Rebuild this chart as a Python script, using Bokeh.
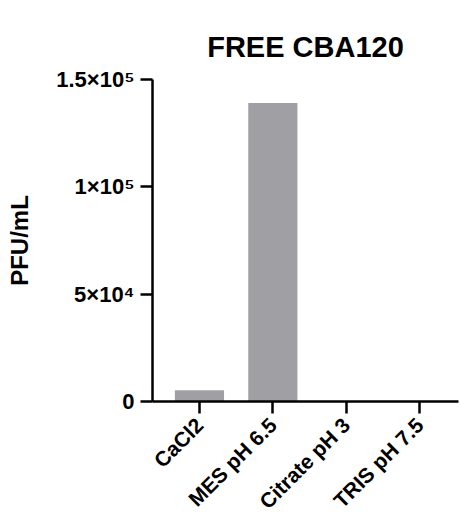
import math
from bokeh.plotting import figure
from bokeh.models import Range1d, FixedTicker, ColumnDataSource
from bokeh.embed import file_html
from bokeh.resources import INLINE

categories = ["CaCl2", "MES pH 6.5", "Citrate pH 3", "TRIS pH 7.5"]
pfu_values = [5200, 139000, 0, 0]
y_ticks = [0, 50000, 100000, 150000]
y_tick_labels = ["0", "5×10⁴", "1×10⁵", "1.5×10⁵"]
title_text = "FREE CBA120"

xs = list(range(len(categories)))
src = ColumnDataSource(dict(x=xs, top=pfu_values))

FONT = "Liberation Sans"

p = figure(width=460, height=525, output_backend="svg", toolbar_location=None,
           x_range=Range1d(-0.64, 3.53), y_range=Range1d(0, 150000),
           title=title_text, min_border_left=152, min_border_right=2,
           min_border_top=79, min_border_bottom=124)

p.vbar(x="x", top="top", width=0.67, source=src, fill_color="#a0a0a4", line_color=None)

p.title.text_font = FONT
p.title.text_font_size = "29px"
p.title.text_font_style = "bold"
p.title.align = "center"
p.title.vertical_align = "top"
p.title.standoff = 30
p.title.text_color = "black"

p.outline_line_color = None
p.xgrid.grid_line_color = None
p.ygrid.grid_line_color = None

for ax in (p.xaxis[0], p.yaxis[0]):
    ax.axis_line_width = 2.5
    ax.axis_line_color = "black"
    ax.major_tick_line_width = 2.5
    ax.major_tick_line_color = "black"
    ax.major_tick_out = 12
    ax.major_tick_in = 0
    ax.minor_tick_line_color = None
    ax.major_label_text_font = FONT
    ax.major_label_text_font_style = "bold"
    ax.major_label_text_color = "black"

p.xaxis.ticker = FixedTicker(ticks=xs)
p.xaxis.major_label_overrides = {i: c for i, c in enumerate(categories)}
p.xaxis.major_label_orientation = math.pi / 4
p.xaxis.major_label_text_font_size = "21px"
p.xaxis.major_label_standoff = 8

p.yaxis.ticker = FixedTicker(ticks=y_ticks)
p.yaxis.major_label_overrides = {t: l for t, l in zip(y_ticks, y_tick_labels)}
p.yaxis.major_label_text_font_size = "22px"
p.yaxis.major_label_standoff = 6
p.yaxis.axis_label = "PFU/mL"
p.yaxis.axis_label_text_font = FONT
p.yaxis.axis_label_text_font_style = "bold"
p.yaxis.axis_label_text_font_size = "24px"
p.yaxis.axis_label_text_color = "black"
p.yaxis.axis_label_standoff = 20

open("out.html", "w").write(file_html(p, INLINE))
